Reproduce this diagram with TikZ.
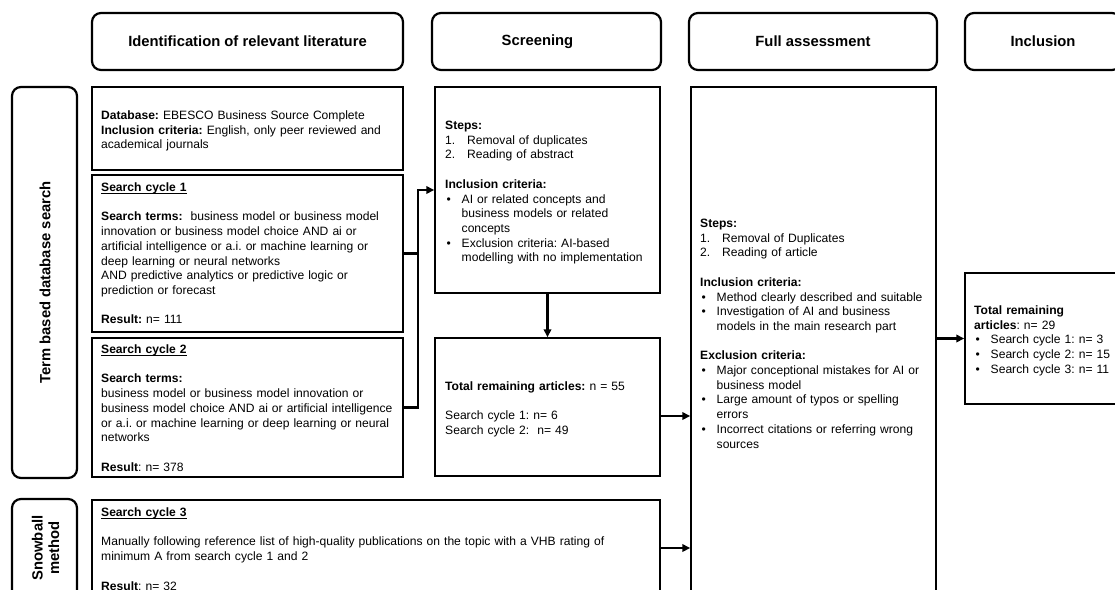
\documentclass[tikz,border=0pt]{standalone}
\usepackage{fontspec}
\setmainfont{Liberation Sans}
\usetikzlibrary{arrows.meta,calc}
\frenchspacing
\newcommand{\bt}{\fontsize{12.1}{14.7}\selectfont\frenchspacing}
\newcommand{\hdfont}{\fontsize{14.8}{16.5}\selectfont\bfseries}
\newcommand{\bul}{\makebox[16.5pt][l]{\hspace{1.5pt}•}}
\newcommand{\ind}{\hspace*{16.5pt}}
\newcommand{\enumit}[1]{\makebox[22pt][l]{#1}}
\newcommand{\ulin}[1]{\setbox0\hbox{#1}\rlap{\rule[-2.2pt]{\wd0}{0.9pt}}\box0}
\begin{document}
\begin{tikzpicture}[x=1pt,y=-1pt,
  bx/.style={draw, line width=1.5pt, inner sep=0pt},
  hdr/.style={draw, line width=2.2pt, rounded corners=9pt, inner sep=0pt, minimum height=57pt, font=\hdfont},
  side/.style={draw, line width=2.2pt, rounded corners=9pt, inner sep=0pt, minimum width=65pt},
  txt/.style={anchor=base west, inner sep=0pt, align=left, font=\bt, text width=300pt},
  lab/.style={rotate=90, inner sep=0pt, align=center, font=\hdfont},
  ln/.style={line width=2.2pt},
  arr/.style={line width=2.2pt, -{Triangle[length=8pt,width=7.5pt]}}]
\useasboundingbox (0,0) rectangle (1115,589);
\clip (0,0) rectangle (1115,589);
% headers
\node[hdr, minimum width=311pt] (h1) at (247.5,41.5) {Identification of relevant literature};
\node[hdr, minimum width=229pt] (h2) at (546.5,41.5) {\hspace{-18pt}Screening};
\node[hdr, minimum width=248pt] (h3) at (813,41.5) {Full assessment};
\node[hdr, minimum width=156pt] (h4) at (1043,41.5) {Inclusion};
% side labels
\node[side, minimum height=391pt] (s1) at (44.5,282.5) {};
\node[lab] (s1t) at (45,282.5) {Term based database search};
\node[side, minimum height=141pt] (s2) at (44.5,569.5) {};
\node[lab] (s2t) at (45.5,548) {Snowball\\method};
% boxes
\node[bx, minimum width=311pt, minimum height=83pt] (db) at (247.5,128.5) {};
\node[bx, minimum width=311pt, minimum height=157pt] (sc1) at (247.5,253.5) {};
\node[bx, minimum width=311pt, minimum height=139pt] (sc2) at (247.5,407.5) {};
\node[bx, minimum width=568pt, minimum height=96pt] (sc3) at (376,548) {};
\node[bx, minimum width=225pt, minimum height=206pt] (scr) at (547.5,190) {};
\node[bx, minimum width=225pt, minimum height=138pt] (tot) at (547.5,407) {};
\node[bx, minimum width=245pt, minimum height=613pt] (fa) at (813.5,393.5) {};
\node[bx, minimum width=156pt, minimum height=131pt] (inc) at (1043,338.5) {};
% texts
\node[txt] (dbt) at (101,119.5) {\textbf{Database:} EBESCO Business Source Complete\\
\textbf{Inclusion criteria:} English, only peer reviewed and\\
academical journals};
\node[txt] (sc1t) at (101,191.5) {\ulin{\textbf{Search cycle 1}}\\[14.7pt]
\textbf{Search terms:}\ \ business model or business model\\
innovation or business model choice AND ai or\\
artificial intelligence or a.i. or machine learning or\\
deep learning or neural networks\\
AND predictive analytics or predictive logic or\\
prediction or forecast\\[14.7pt]
\textbf{Result:} n= 111};
\node[txt] (sc2t) at (101,353.5) {\ulin{\textbf{Search cycle 2}}\\[14.7pt]
\textbf{Search terms:}\\
business model or business model innovation or\\
business model choice AND ai or artificial intelligence\\
or a.i. or machine learning or deep learning or neural\\
networks\\[14.7pt]
\textbf{Result}: n= 378};
\node[txt, text width=550pt] (sc3t) at (101,516.5) {\ulin{\textbf{Search cycle 3}}\\[14.7pt]
Manually following reference list of high-quality publications on the topic with a VHB rating of\\
minimum A from search cycle 1 and 2\\[14.7pt]
\textbf{Result}: n= 32};
\node[txt] (scrt) at (445,129.5) {\textbf{Steps:}\\
\enumit{1.}Removal of duplicates\\
\enumit{2.}Reading of abstract\\[14.7pt]
\textbf{Inclusion criteria:}\\
\bul AI or related concepts and\\
\ind business models or related\\
\ind concepts\\
\bul Exclusion criteria: AI-based\\
\ind modelling with no implementation};
\node[txt] (tott) at (445,390.5) {\textbf{Total remaining articles:} n = 55\\[14.7pt]
Search cycle 1: n= 6\\
Search cycle 2:\ \ n= 49};
\node[txt] (fat) at (700,227.5) {\textbf{Steps:}\\
\enumit{1.}Removal of Duplicates\\
\enumit{2.}Reading of article\\[14.7pt]
\textbf{Inclusion criteria:}\\
\bul Method clearly described and suitable\\
\bul Investigation of AI and business\\
\ind models in the main research part\\[14.7pt]
\textbf{Exclusion criteria:}\\
\bul Major conceptional mistakes for AI or\\
\ind business model\\
\bul Large amount of typos or spelling\\
\ind errors\\
\bul Incorrect citations or referring wrong\\
\ind sources};
\node[txt] (inct) at (974,314.5) {\textbf{Total remaining}\\
\textbf{articles}: n= 29\\
\bul Search cycle 1: n= 3\\
\bul Search cycle 2: n= 15\\
\bul Search cycle 3: n= 11};
% connectors
\coordinate (merge) at ($(scr.west)+(-16,0)$);
\draw[ln] (sc1.east) -| (merge);
\draw[arr] (sc2.east) -| (merge) -- (scr.west);
\draw[arr] (scr.south) -- (tot.north);
\coordinate (t1) at ([yshift=-9pt]tot.east);
\draw[arr] (t1) -- (t1 -| fa.west);
\draw[arr] (sc3.east) -- (sc3.east -| fa.west);
\draw[arr] (inc.west -| fa.east) -- (inc.west);
\end{tikzpicture}
\end{document}
